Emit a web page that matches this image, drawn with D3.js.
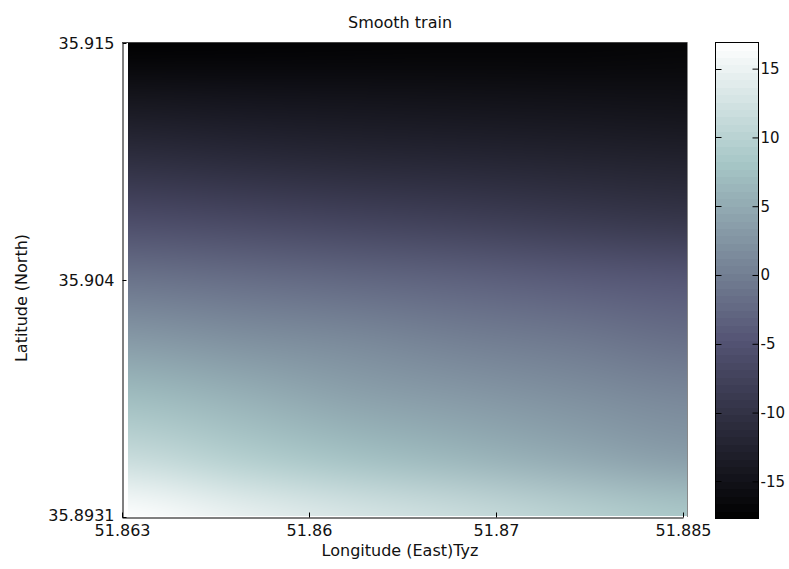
<!DOCTYPE html>
<html>
<head>
<meta charset="utf-8">
<script src="https://cdn.jsdelivr.net/npm/d3@7"></script>
<style>
  body { margin: 0; background: #fff; }
  text { font-family: "DejaVu Sans", sans-serif; fill: #111; }
</style>
</head>
<body>
<script>
// tick labels as printed on the figure
var xTickLabels = ["51.863", "51.86", "51.87", "51.885"];
var yTickLabels = ["35.8931", "35.904", "35.915"];
var cbarTicks = [-15, -10, -5, 0, 5, 10, 15];
var cLimits = [-17.7, 16.9];

// surface values, rows top (north) -> bottom, cols west -> east
var row0 = [-17.7, -17.5, -17.4, -17.3, -17.2, -17.0];
var row1 = [-14.2, -14.4, -14.6, -14.8, -14.9, -15.1];
var row2 = [-10.4, -11.0, -11.5, -11.8, -12.2, -12.5];
var row3 = [-5.9, -6.6, -7.3, -8.0, -8.7, -9.4];
var row4 = [-1.1, -1.8, -2.5, -3.2, -3.9, -4.5];
var row5 = [3.1, 2.0, 1.2, 0.1, -0.7, -1.8];
var row6 = [7.2, 5.8, 4.1, 3.1, 2.0, 1.0];
var row7 = [11.4, 9.3, 7.6, 6.2, 4.8, 3.4];
var row8 = [16.9, 14.8, 13.1, 11.7, 10.0, 8.6];
var grid = [row0, row1, row2, row3, row4, row5, row6, row7, row8];

// matlab "bone" colormap
var boneStops = [0, 0.375, 0.75, 1];
var boneColors = ["#000000", "#545474", "#a7c7c7", "#ffffff"];

var W = 789, H = 569;

var svg = d3.select("body")
    .append("svg")
    .attr("width", W)
    .attr("height", H);

var color = d3.scaleLinear()
    .domain(boneStops.map(function (s) { return cLimits[0] + s * (cLimits[1] - cLimits[0]); }))
    .range(boneColors)
    .clamp(true);

// axes (ticks are evenly spaced, labels are whatever the figure printed)
var x = d3.scalePoint().domain(xTickLabels).range([122, 683]);
var y = d3.scalePoint().domain(yTickLabels).range([517, 43]);

// image placement
var nRows = grid.length, nCols = row0.length;
var gx = d3.scaleLinear().domain([0, nCols - 1]).range([128, 687]);
var gy = d3.scaleLinear().domain([0, nRows - 1]).range([43, 516]);

var small = document.createElement("canvas");
small.width = nCols;
small.height = nRows;
var sctx = small.getContext("2d");
var img = sctx.createImageData(nCols, nRows);
grid.forEach(function (row, r) {
    row.forEach(function (v, c) {
        var col = d3.rgb(color(v));
        var i = (r * nCols + c) * 4;
        img.data[i] = col.r;
        img.data[i + 1] = col.g;
        img.data[i + 2] = col.b;
        img.data[i + 3] = 255;
    });
});
sctx.putImageData(img, 0, 0);

// smooth (interp) shading of the grid, like matlab's renderer
var iw = Math.round(gx(nCols - 1) - gx(0)), ih = Math.round(gy(nRows - 1) - gy(0));
var big = document.createElement("canvas");
big.width = iw;
big.height = ih;
var bctx = big.getContext("2d");
bctx.imageSmoothingEnabled = true;
bctx.imageSmoothingQuality = "high";
bctx.drawImage(small, 0.5, 0.5, nCols - 1, nRows - 1, 0, 0, iw, ih);

svg.append("image")
    .attr("x", gx(0))
    .attr("y", gy(0))
    .attr("width", iw)
    .attr("height", ih)
    .attr("preserveAspectRatio", "none")
    .attr("href", big.toDataURL());

// box edges
svg.append("line")
    .attr("x1", 122).attr("x2", 687.5)
    .attr("y1", 42.5).attr("y2", 42.5)
    .attr("stroke", "#444");
svg.append("line")
    .attr("x1", 687.5).attr("x2", 687.5)
    .attr("y1", 42.5).attr("y2", 517)
    .attr("stroke", "#888");

var xAxis = svg.append("g")
    .attr("transform", "translate(0,517.5)")
    .call(d3.axisBottom(x).tickSizeInner(-5).tickSizeOuter(0).tickPadding(7));
var yAxis = svg.append("g")
    .attr("transform", "translate(122.5,0)")
    .call(d3.axisLeft(y).tickSizeInner(-4).tickSizeOuter(0).tickPadding(8));

[xAxis, yAxis].forEach(function (g) {
    g.selectAll("text").style("font-family", "DejaVu Sans, sans-serif").style("font-size", "16px").attr("fill", "#111");
    g.selectAll("line, path").attr("stroke", "#000");
});
// bottom y label sits a touch higher so it clears 51.863
yAxis.selectAll(".tick").filter(function (d) { return d === "35.8931"; })
    .select("text").attr("dy", "0.2em");

// titles
svg.append("text")
    .attr("x", 400).attr("y", 28)
    .attr("text-anchor", "middle")
    .style("font-size", "16px")
    .text("Smooth train");
svg.append("text")
    .attr("x", 400).attr("y", 556)
    .attr("text-anchor", "middle")
    .style("font-size", "16px")
    .text("Longitude (East)Tyz");
svg.append("text")
    .attr("transform", "translate(27,298) rotate(-90)")
    .attr("text-anchor", "middle")
    .style("font-size", "16px")
    .text("Latitude (North)");

// colorbar
var cb = {x0: 715.5, x1: 758.5, y0: 42.5, y1: 518.5};
var cy = d3.scaleLinear().domain(cLimits).range([cb.y1, cb.y0]);
var levels = d3.range(64);
var band = d3.scaleBand().domain(levels).range([cb.y1, cb.y0]);

svg.append("g")
    .attr("shape-rendering", "crispEdges")
    .selectAll("rect")
    .data(levels)
    .enter()
    .append("rect")
    .attr("x", cb.x0)
    .attr("width", cb.x1 - cb.x0)
    .attr("y", function (d) { return band(d); })
    .attr("height", band.bandwidth() + 0.6)
    .attr("fill", function (d) {
        return color(cLimits[0] + (d + 0.5) / 64 * (cLimits[1] - cLimits[0]));
    });

svg.append("rect")
    .attr("x", cb.x0).attr("y", cb.y0)
    .attr("width", cb.x1 - cb.x0).attr("height", cb.y1 - cb.y0)
    .attr("fill", "none")
    .attr("stroke", "#000");

var cAxis = svg.append("g")
    .attr("transform", "translate(" + cb.x1 + ",0)")
    .call(d3.axisRight(cy).tickValues(cbarTicks)
        .tickFormat(function (d) { return String(d); })
        .tickSizeInner(-6).tickSizeOuter(0).tickPadding(2));
cAxis.select(".domain").remove();
cAxis.selectAll("line").attr("stroke", "#000");
cAxis.selectAll("text").style("font-family", "DejaVu Sans, sans-serif").style("font-size", "15px").attr("fill", "#111");

// matching ticks on the left edge of the bar
svg.append("g")
    .selectAll("line")
    .data(cbarTicks)
    .enter()
    .append("line")
    .attr("x1", cb.x0).attr("x2", cb.x0 + 6)
    .attr("y1", function (d) { return Math.round(cy(d)) + 0.5; })
    .attr("y2", function (d) { return Math.round(cy(d)) + 0.5; })
    .attr("stroke", "#000");
</script>
</body>
</html>
